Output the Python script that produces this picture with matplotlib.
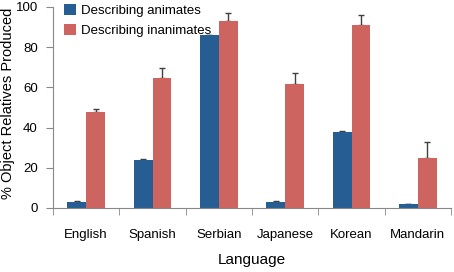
import matplotlib
matplotlib.use("Agg")
import matplotlib.pyplot as plt
import numpy as np

plt.rcParams['font.family'] = ['Liberation Sans', 'DejaVu Sans']

languages = ["English", "Spanish", "Serbian", "Japanese", "Korean", "Mandarin"]
animates = [3.2, 24.0, 86.0, 3.2, 38.0, 1.8]
animates_err = [0.5, 0.3, 0.3, 0.3, 0.3, 0.3]
inanimates = [48.0, 64.5, 92.8, 61.8, 91.0, 25.0]
inanimates_err = [1.5, 5.0, 4.0, 5.2, 5.2, 7.8]
yticks = [0, 20, 40, 60, 80, 100]

blue = "#265E93"
red = "#CE645F"
grey = "#888888"
errc = "#404040"

fig = plt.figure(figsize=(4.54, 2.72), dpi=100)
ax = fig.add_axes([53/454, 1-208/272, (451-53)/454, (208-7)/272])

x = np.arange(len(languages))
w = 0.286
ax.bar(x - w/2, animates, w, color=blue, label="Describing animates", zorder=3)
ax.bar(x + w/2, inanimates, w, color=red, label="Describing inanimates", zorder=3)
zeros = np.zeros(len(x))
ax.errorbar(x - w/2, animates, yerr=[zeros, animates_err], fmt='none', ecolor=errc,
            capsize=2.5, elinewidth=1, capthick=1, zorder=2)
ax.errorbar(x + w/2, inanimates, yerr=[zeros, inanimates_err], fmt='none', ecolor=errc,
            capsize=2.5, elinewidth=1, capthick=1, zorder=2)

ax.set_xlim(-0.5, len(languages) - 0.5)
ax.set_ylim(0, 100)
ax.set_yticks(yticks)
ax.set_xticks(x)
ax.set_xticklabels(languages, fontsize=9.5)
ax.tick_params(axis='x', length=0, pad=15)
ax.set_xticks(np.arange(len(languages) + 1) - 0.5, minor=True)
ax.tick_params(axis='x', which='minor', length=5, color=grey, direction='out')
ax.tick_params(axis='y', length=5, color=grey, labelsize=9.5, pad=6)

for s in ["top", "right"]:
    ax.spines[s].set_visible(False)
for s in ["left", "bottom"]:
    ax.spines[s].set_color(grey)
    ax.spines[s].set_zorder(4)

ax.set_xlabel("Language", fontsize=11)
ax.xaxis.set_label_coords(0.5, -0.225)
ax.set_ylabel("% Object Relatives Produced", fontsize=10.5)
ax.yaxis.set_label_coords(-38/398, 0.52)

ax.legend(loc="upper left", bbox_to_anchor=(0.015, 1.04), frameon=False, fontsize=9.5,
          handlelength=0.9, handleheight=0.9, handletextpad=0.4, labelspacing=0.5, borderaxespad=0)

fig.savefig("out.png", dpi=100)
